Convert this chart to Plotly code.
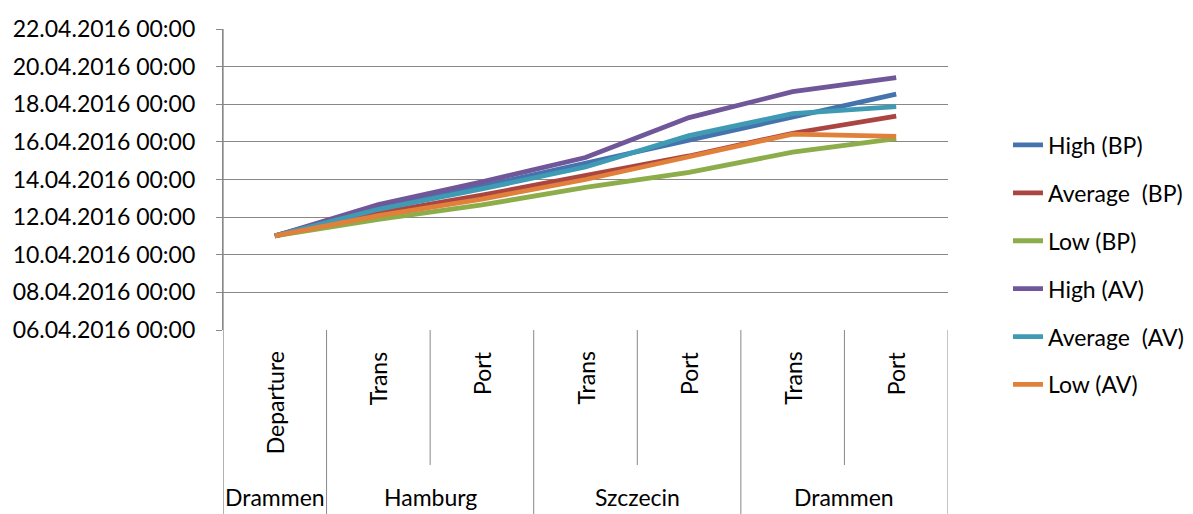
import plotly.graph_objects as go

# ---- data ----
sub_categories = ["Departure", "Trans", "Port", "Trans", "Port", "Trans", "Port"]
group_categories = ["Drammen", "Hamburg", "Hamburg", "Szczecin", "Szczecin", "Drammen", "Drammen"]

series_names = ["High (BP)", "Average  (BP)", "Low (BP)", "High (AV)", "Average  (AV)", "Low (AV)"]

high_bp = ["2016-04-11 00:00", "2016-04-12 12:00", "2016-04-13 15:30", "2016-04-14 21:00",
           "2016-04-16 03:00", "2016-04-17 08:00", "2016-04-18 13:00"]
average_bp = ["2016-04-11 00:00", "2016-04-12 05:00", "2016-04-13 04:00", "2016-04-14 05:00",
              "2016-04-15 06:00", "2016-04-16 11:00", "2016-04-17 09:00"]
low_bp = ["2016-04-11 00:00", "2016-04-11 21:00", "2016-04-12 15:30", "2016-04-13 14:00",
          "2016-04-14 09:00", "2016-04-15 11:00", "2016-04-16 04:00"]
high_av = ["2016-04-11 00:00", "2016-04-12 16:00", "2016-04-13 21:00", "2016-04-15 04:00",
           "2016-04-17 07:00", "2016-04-18 16:00", "2016-04-19 10:00"]
average_av = ["2016-04-11 00:00", "2016-04-12 10:00", "2016-04-13 12:00", "2016-04-14 16:00",
              "2016-04-16 08:00", "2016-04-17 12:00", "2016-04-17 21:00"]
low_av = ["2016-04-11 00:00", "2016-04-12 02:00", "2016-04-12 23:00", "2016-04-14 00:00",
          "2016-04-15 05:00", "2016-04-16 10:00", "2016-04-16 07:00"]

y_range = ["2016-04-06 00:00", "2016-04-22 00:00"]

# ---- styling ----
colors = ["#4573AD", "#AB4542", "#8DAD4A", "#70579A", "#3F9AB4", "#E0803A"]
FONT = "Lato, Carlito, Calibri, sans-serif"
FS = 23
GRID = "#888888"

W, H = 1193, 514
ML, MR, MT, MB = 223, 245, 29, 184
plot_h = H - MT - MB

def py(px):
    """pixel y (from top) -> paper y"""
    return (H - MB - px) / plot_h

series = [high_bp, average_bp, low_bp, high_av, average_av, low_av]
xs = list(range(len(sub_categories)))

fig = go.Figure()
for i, (name, vals) in enumerate(zip(series_names, series)):
    fig.add_trace(go.Scatter(
        x=xs, y=vals, name=name, mode="lines",
        line=dict(color=colors[i], width=4.8),
        legendgroup="g%d" % i,
    ))

shapes = []
annotations = []
n = len(sub_categories)
# dividers under the x axis
bottom = -MB / plot_h
inner_bottom = py(465)
for b in range(1, n + 1):
    xb = b - 0.5
    if b == n or group_categories[b - 1] != group_categories[b]:
        y1 = bottom
    else:
        y1 = inner_bottom
    shapes.append(dict(type="line", xref="x", yref="paper", x0=xb, x1=xb, y0=0, y1=y1,
                       line=dict(color=GRID, width=1)))
shapes.append(dict(type="line", xref="x", yref="paper", x0=-0.5, x1=-0.5, y0=1, y1=bottom,
                   line=dict(color=GRID, width=1.3)))

# inner labels
for i, lab in enumerate(sub_categories):
    annotations.append(dict(x=i, xref="x", y=py(349), yref="paper", text=lab, textangle=-90,
                            showarrow=False, xanchor="center", yanchor="top",
                            font=dict(family=FONT, size=FS, color="black")))
# group labels
start = 0
for i in range(1, n + 1):
    if i == n or group_categories[i] != group_categories[start]:
        annotations.append(dict(x=(start + i - 1) / 2, xref="x", y=py(497), yref="paper",
                                text=group_categories[start], showarrow=False,
                                xanchor="center", yanchor="middle",
                                font=dict(family=FONT, size=FS, color="black")))
        start = i

fig.update_layout(
    width=W, height=H,
    margin=dict(l=ML, r=MR, t=MT, b=MB, pad=0, autoexpand=False),
    paper_bgcolor="white", plot_bgcolor="white",
    font=dict(family=FONT, size=FS, color="black"),
    xaxis=dict(range=[-0.5, n - 0.5], showgrid=False, zeroline=False, showticklabels=False,
               showline=False, ticks=""),
    yaxis=dict(type="date", range=y_range, tick0="2016-04-06", dtick=2 * 86400000,
               tickformat="%d.%m.%Y %H:%M", showgrid=True, gridcolor=GRID, gridwidth=1.3,
               showline=True, linecolor=GRID, linewidth=1.3, ticks="outside", ticklen=6,
               tickcolor=GRID, tickwidth=1.3, ticklabelstandoff=16, zeroline=False,
               tickfont=dict(family=FONT, size=FS, color="black")),
    legend=dict(x=(1008 - ML) / (W - ML - MR), xanchor="left", y=py(265), yanchor="middle",
                tracegroupgap=15, font=dict(family=FONT, size=FS, color="black"),
                bgcolor="rgba(0,0,0,0)"),
    shapes=shapes, annotations=annotations,
)

fig.write_html("out.html")
